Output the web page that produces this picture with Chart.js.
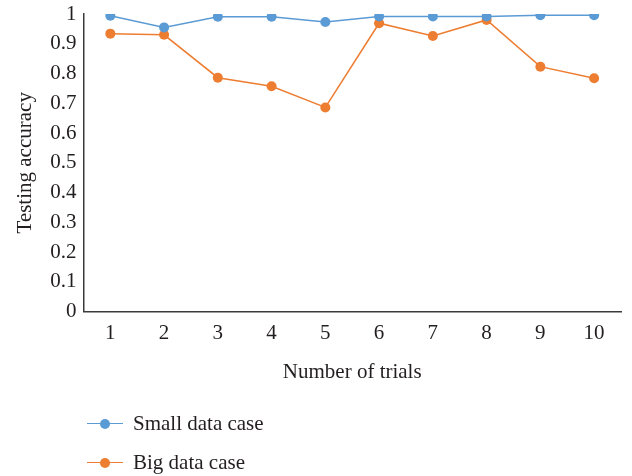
<!DOCTYPE html>
<html>
<head>
<meta charset="utf-8">
<script src="https://cdn.jsdelivr.net/npm/chart.js@4/dist/chart.umd.min.js"></script>
<style>
    html, body { margin: 0; padding: 0; background: #fff; }
    #wrap { position: relative; width: 632px; height: 476px; }
    #chart { position: absolute; left: 0; top: 0; }
    #legend { position: absolute; left: 87px; top: 404px; font-family: "Liberation Serif", "DejaVu Serif", serif; font-size: 21px; color: #231f20; }
    .legend-row { display: flex; align-items: center; height: 39px; }
    .legend-key { position: relative; width: 36px; height: 10px; margin-right: 10px; }
    .legend-key .ln { position: absolute; left: 0; right: 0; top: 4px; height: 1.5px; }
    .legend-key .dot { position: absolute; left: 13px; top: 0; width: 10px; height: 10px; border-radius: 50%; }
</style>
</head>
<body>
<div id="wrap">
    <canvas id="chart" width="632" height="476"></canvas>
    <div id="legend"></div>
</div>
<script>
// ===== Testing accuracy per trial =====
const trials = ['1', '2', '3', '4', '5', '6', '7', '8', '9', '10'];
const smallData = [0.994, 0.955, 0.991, 0.991, 0.973, 0.992, 0.992, 0.992, 0.996, 0.996];
const bigData = [0.934, 0.930, 0.786, 0.757, 0.686, 0.969, 0.926, 0.980, 0.823, 0.784];

const seriesNames = ['Small data case', 'Big data case'];
const seriesColors = ['#5b9bd5', '#ed7d31'];

const serif = '"Liberation Serif", "DejaVu Serif", serif';
const inkColor = '#231f20';

function buildDataset(label, values, color) {
    return {
        label: label,
        data: values,
        borderColor: color,
        backgroundColor: color,
        borderWidth: 1.5,
        pointRadius: 5,
        pointHoverRadius: 5,
        pointBorderWidth: 0,
        tension: 0
    };
}

const chart = new Chart(document.getElementById('chart'), {
    type: 'line',
    data: {
        labels: trials,
        datasets: [
            buildDataset(seriesNames[0], smallData, seriesColors[0]),
            buildDataset(seriesNames[1], bigData, seriesColors[1])
        ]
    },
    options: {
        responsive: false,
        animation: false,
        layout: { padding: { top: 14, right: 11, bottom: 91, left: 13 } },
        plugins: {
            legend: { display: false },
            tooltip: { enabled: false }
        },
        scales: {
            x: {
                offset: true,
                grid: { display: false, drawTicks: false },
                border: { display: true, color: '#3a3a3a', width: 1.5 },
                ticks: { color: inkColor, font: { family: serif, size: 21 }, padding: 9 },
                title: {
                    display: true,
                    text: 'Number of trials',
                    color: inkColor,
                    font: { family: serif, size: 21 },
                    padding: { top: 5, bottom: 0 }
                }
            },
            y: {
                min: 0,
                max: 1,
                grid: { display: false, drawTicks: false },
                border: { display: true, color: '#3a3a3a', width: 1.5 },
                ticks: {
                    stepSize: 0.1,
                    color: inkColor,
                    font: { family: serif, size: 21 },
                    padding: 7,
                    callback: v => String(+v.toFixed(1))
                },
                title: {
                    display: true,
                    text: 'Testing accuracy',
                    color: inkColor,
                    font: { family: serif, size: 21 },
                    padding: { top: 0, bottom: 5 }
                },
                // let the "1" label sit above the plot top instead of pushing it down
                afterFit: scale => { scale.paddingTop = 0; }
            }
        }
    }
});

// Legend below the plot, one row per series
const legendEl = document.getElementById('legend');
legendEl.innerHTML = chart.data.datasets.map(ds => `
    <div class="legend-row">
        <div class="legend-key">
            <div class="ln" style="background:${ds.borderColor}"></div>
            <div class="dot" style="background:${ds.borderColor}"></div>
        </div>
        <span>${ds.label}</span>
    </div>
`).join('');
</script>
</body>
</html>
